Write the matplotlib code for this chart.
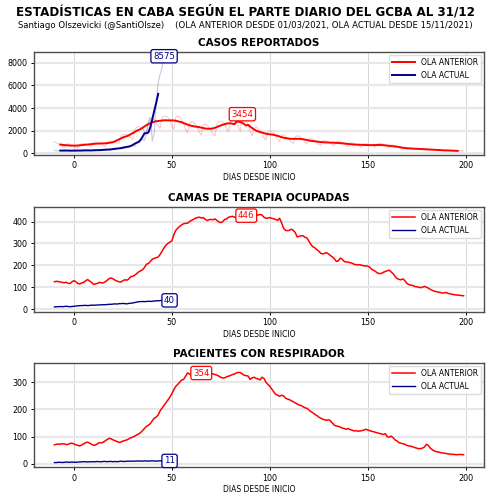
import numpy as np
import pandas as pd
import matplotlib
matplotlib.use("Agg")
import matplotlib.pyplot as plt

# dias desde inicio de cada ola
dias_ant = np.arange(-10, 200)
dias_act = np.arange(-10, 47)

casos_ant = [
    1000, 920, 840, 745, 600, 520, 800, 830, 780, 710,
    630, 520, 480, 780, 850, 850, 820, 765, 640, 575,
    930, 1000, 990, 940, 850, 700, 615, 990, 1060, 1035,
    1025, 1030, 920, 875, 1500, 1650, 1670, 1620, 1570, 1360,
    1225, 2055, 2300, 2360, 2320, 2255, 1920, 1750, 2885, 3185,
    3100, 3000, 2800, 2400, 2200, 3150, 3300, 3280, 3150, 2950,
    2400, 2100, 3200, 3300, 3200, 2970, 2650, 2100, 1800, 2650,
    2800, 2750, 2570, 2300, 1850, 1600, 2500, 2600, 2470, 2270,
    2060, 1720, 1540, 2550, 2830, 2820, 2750, 2600, 2160, 1925,
    3000, 3150, 2950, 2750, 2300, 1950, 3454, 3050, 2800, 2500,
    1920, 1540, 2280, 2360, 2185, 2000, 1765, 1400, 1190, 1890,
    2000, 1900, 1780, 1570, 1240, 1050, 1610, 1650, 1500, 1350,
    1225, 1000, 880, 1440, 1560, 1500, 1380, 1225, 960, 805,
    1275, 1300, 1240, 1135, 1010, 800, 700, 1090, 1130, 1090,
    1025, 930, 760, 660, 1030, 1085, 1035, 950, 845, 670,
    575, 890, 920, 875, 820, 735, 600, 520, 810, 850,
    805, 755, 705, 590, 525, 845, 885, 850, 780, 685,
    545, 460, 710, 730, 690, 625, 550, 430, 350, 520,
    490, 470, 445, 415, 370, 340, 410, 415, 400, 375,
    345, 305, 280, 340, 340, 320, 300, 275, 245, 220,
    265, 270, 260, 245, 225, 200, 185, 225, 230, 220,
]
casos_act = [
    260, 230, 220, 250, 270, 240, 210, 240, 260, 250,
    230, 200, 240, 260, 270, 250, 220, 260, 280, 270,
    250, 220, 280, 300, 320, 300, 270, 320, 350, 360,
    380, 330, 420, 460, 500, 480, 450, 560, 620, 680,
    700, 620, 900, 1100, 1300, 1250, 1150, 1900, 2600, 3100,
    1100, 1800, 4500, 6200, 7000, 7600, 8575,
]

camas_ant = [
    125, 127, 126, 124, 122, 120, 123, 118, 117, 125,
    130, 125, 117, 115, 120, 122, 130, 135, 128, 122,
    113, 115, 118, 122, 120, 120, 125, 132, 140, 142,
    138, 132, 128, 125, 124, 130, 134, 132, 138, 148,
    150, 155, 162, 170, 175, 180, 190, 205, 208, 218,
    228, 232, 235, 238, 250, 265, 280, 292, 300, 306,
    312, 340, 360, 370, 378, 385, 390, 392, 392, 400,
    405, 410, 415, 418, 420, 416, 418, 410, 405, 408,
    410, 408, 412, 405, 398, 395, 400, 410, 412, 420,
    422, 424, 420, 418, 425, 430, 438, 440, 446, 442,
    435, 428, 425, 428, 430, 432, 430, 420, 415, 416,
    418, 415, 412, 410, 405, 415, 395, 370, 360, 358,
    360, 365, 360, 350, 330, 332, 335, 335, 328, 325,
    310, 295, 285, 280, 272, 265, 255, 252, 255, 258,
    252, 245, 238, 230, 218, 220, 233, 228, 218, 215,
    215, 212, 210, 205, 203, 202, 203, 200, 198, 197,
    197, 192, 182, 178, 172, 165, 162, 163, 168, 172,
    175, 178, 170, 162, 150, 140, 136, 134, 138, 130,
    118, 112, 110, 108, 104, 102, 100, 98, 100, 104,
    100, 96, 90, 86, 82, 80, 78, 76, 74, 74,
    76, 72, 70, 68, 66, 65, 64, 63, 62, 61,
]
camas_act = [
    10, 11, 11, 12, 11, 12, 13, 12, 11, 12,
    13, 14, 15, 16, 16, 17, 17, 16, 17, 18,
    18, 18, 19, 19, 20, 20, 20, 21, 22, 22,
    23, 24, 23, 25, 25, 26, 25, 24, 26, 27,
    28, 30, 32, 34, 34, 35, 34, 35, 36, 35,
    36, 37, 38, 38, 39, 40, 40,
]

resp_ant = [
    70, 72, 73, 72, 74, 73, 71, 72, 75, 76,
    73, 70, 68, 66, 70, 74, 78, 80, 76, 72,
    68, 70, 74, 78, 77, 80, 85, 90, 94, 92,
    88, 85, 82, 79, 80, 84, 86, 88, 92, 96,
    98, 102, 106, 110, 115, 122, 130, 138, 142, 148,
    158, 168, 172, 180, 195, 205, 215, 225, 235, 245,
    258, 272, 285, 292, 300, 308, 310, 322, 334, 330,
    325, 332, 340, 348, 352, 354, 348, 342, 338, 335,
    332, 330, 328, 326, 322, 318, 315, 316, 320, 322,
    325, 328, 330, 334, 336, 335, 330, 325, 324, 322,
    310, 316, 318, 314, 312, 308, 318, 314, 300, 292,
    285, 275, 265, 255, 252, 248, 252, 250, 242, 238,
    236, 232, 228, 224, 220, 216, 214, 210, 206, 204,
    198, 192, 188, 182, 178, 172, 168, 164, 162, 160,
    162, 158, 150, 142, 139, 138, 135, 132, 130, 127,
    130, 126, 124, 121, 122, 120, 121, 122, 124, 127,
    125, 122, 120, 118, 116, 114, 112, 110, 108, 111,
    100, 98, 102, 96, 88, 84, 78, 76, 74, 72,
    68, 66, 65, 63, 60, 58, 56, 56, 58, 62,
    72, 68, 58, 52, 48, 45, 44, 42, 40, 40,
    38, 37, 36, 35, 35, 34, 34, 35, 34, 34,
]
resp_act = [
    5, 5, 6, 6, 5, 6, 7, 6, 6, 7,
    6, 6, 7, 7, 8, 8, 8, 7, 8, 8,
    8, 8, 9, 8, 8, 9, 9, 8, 9, 9,
    8, 9, 8, 9, 10, 9, 9, 10, 10, 10,
    10, 10, 11, 10, 11, 10, 11, 11, 10, 11,
    11, 11, 10, 11, 11, 11, 11,
]

ROJO = "red"
AZUL = "darkblue"

fig = plt.figure(figsize=(4.91, 5.0), dpi=100)
fig.text(0.5, 0.976, "ESTADÍSTICAS EN CABA SEGÚN EL PARTE DIARIO DEL GCBA AL 31/12",
         ha="center", va="center", fontsize=8.6, fontweight="bold")
fig.text(0.5, 0.95, "Santiago Olszevicki (@SantiOlsze)    (OLA ANTERIOR DESDE 01/03/2021, OLA ACTUAL DESDE 15/11/2021)",
         ha="center", va="center", fontsize=6.1)

ax1 = fig.add_axes([0.069, 0.69, 0.917, 0.206])
ax2 = fig.add_axes([0.069, 0.3766, 0.917, 0.21])
ax3 = fig.add_axes([0.069, 0.0654, 0.917, 0.2092])


def estilo(ax, titulo):
    ax.set_title(titulo, fontsize=7.5, fontweight="bold", pad=4)
    ax.grid(axis="y", color="0.91", lw=1.6)
    ax.grid(axis="x", color="0.84", lw=0.7)
    ax.set_axisbelow(True)
    for s in ax.spines.values():
        s.set_color("0.3")
        s.set_linewidth(1.0)
    ax.tick_params(labelsize=5.8, length=2.5, width=0.7, pad=2)
    ax.set_xlabel("DIAS DESDE INICIO", fontsize=5.5, labelpad=2)
    ax.set_xticks([0, 50, 100, 150, 200])
    ax.set_xlim(-20.5, 209.5)


def caja(ax, texto, x, y, color, dx=0, dy=0, ha="center"):
    ax.annotate(texto, xy=(x, y), xytext=(dx, dy), textcoords="offset points",
                ha=ha, va="center", fontsize=6.2, color=color, zorder=10,
                bbox=dict(boxstyle="round,pad=0.25", fc="white", ec=color, lw=0.9))


def leyenda(ax):
    ax.legend(loc="upper right", fontsize=5.5, handlelength=3, borderaxespad=0.4,
              framealpha=0.9, edgecolor="0.85")


# casos
s_ant = pd.Series(casos_ant, index=dias_ant)
s_act = pd.Series(casos_act, index=dias_act)
ax1.plot(dias_ant, casos_ant, color=ROJO, lw=0.8, alpha=0.22)
ax1.plot(dias_act, casos_act, color=AZUL, lw=0.8, alpha=0.22)
ax1.plot(s_ant.rolling(7, center=True).mean(), color=ROJO, lw=1.4, label="OLA ANTERIOR")
ax1.plot(s_act.rolling(7, center=True).mean(), color=AZUL, lw=1.4, label="OLA ACTUAL")
estilo(ax1, "CASOS REPORTADOS")
ax1.set_ylim(-150, 8950)
ax1.set_yticks([0, 2000, 4000, 6000, 8000])
caja(ax1, str(s_ant.max()), s_ant.idxmax(), s_ant.max(), ROJO)
caja(ax1, str(s_act.max()), s_act.idxmax(), s_act.max(), AZUL)
leyenda(ax1)

# camas
c_ant = pd.Series(camas_ant, index=dias_ant)
ax2.plot(dias_ant, camas_ant, color=ROJO, lw=1.1, label="OLA ANTERIOR")
ax2.plot(dias_act, camas_act, color=AZUL, lw=1.0, label="OLA ACTUAL")
estilo(ax2, "CAMAS DE TERAPIA OCUPADAS")
ax2.set_yticks([0, 100, 200, 300, 400])
caja(ax2, str(c_ant.max()), c_ant.idxmax(), c_ant.max(), ROJO, dy=-3)
caja(ax2, str(camas_act[-1]), dias_act[-1], camas_act[-1], AZUL, ha="left")
leyenda(ax2)

# respiradores
r_ant = pd.Series(resp_ant, index=dias_ant)
ax3.plot(dias_ant, resp_ant, color=ROJO, lw=1.1, label="OLA ANTERIOR")
ax3.plot(dias_act, resp_act, color=AZUL, lw=1.0, label="OLA ACTUAL")
estilo(ax3, "PACIENTES CON RESPIRADOR")
ax3.set_yticks([0, 100, 200, 300])
caja(ax3, str(r_ant.max()), r_ant.idxmax(), r_ant.max(), ROJO, dy=-4)
caja(ax3, str(resp_act[-1]), dias_act[-1], resp_act[-1], AZUL, ha="left")
leyenda(ax3)

fig.savefig("out.png", dpi=100)
